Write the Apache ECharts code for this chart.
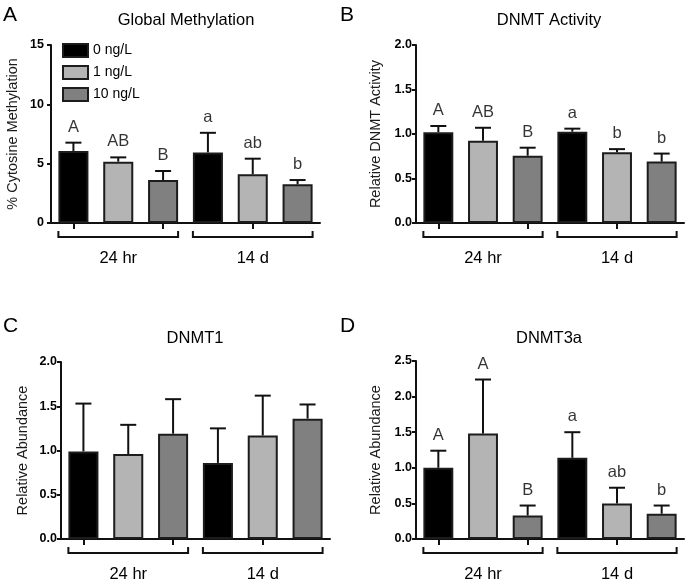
<!DOCTYPE html>
<html>
<head>
<meta charset="utf-8">
<script src="https://cdn.jsdelivr.net/npm/echarts@6/dist/echarts.min.js"></script>
<style>html,body{margin:0;padding:0;background:#fff}#c{width:685px;height:584px}</style>
</head>
<body>
<div id="c"></div>
<script>
// ---- data ----
const groups = ['24 hr', '14 d'];
const doses = ['0 ng/L', '1 ng/L', '10 ng/L'];
const categories = ['24 hr 0', '24 hr 1', '24 hr 10', '14 d 0', '14 d 1', '14 d 10'];
const doseOfBar = [0, 1, 2, 0, 1, 2];

const methMean = [6.07, 5.17, 3.62, 5.95, 4.1, 3.26];
const methTop = [6.77, 5.53, 4.38, 7.6, 5.42, 3.62];
const methLetters = ['A', 'AB', 'B', 'a', 'ab', 'b'];

const actMean = [1.02, 0.925, 0.756, 1.026, 0.794, 0.69];
const actTop = [1.09, 1.07, 0.846, 1.06, 0.83, 0.78];
const actLetters = ['A', 'AB', 'B', 'a', 'b', 'b'];

const d1Mean = [0.99, 0.96, 1.19, 0.86, 1.17, 1.36];
const d1Top = [1.53, 1.29, 1.58, 1.25, 1.62, 1.52];
const d1Letters = ['', '', '', '', '', ''];

const d3aMean = [1.0, 1.48, 0.33, 1.14, 0.5, 0.355];
const d3aTop = [1.24, 2.24, 0.47, 1.5, 0.72, 0.47];
const d3aLetters = ['A', 'A', 'B', 'a', 'ab', 'b'];

const panelTitles = ['Global Methylation', 'DNMT Activity', 'DNMT1', 'DNMT3a'];
const panelLetters = ['A', 'B', 'C', 'D'];
const yNames = ['% Cytosine Methylation', 'Relative DNMT Activity', 'Relative Abundance', 'Relative Abundance'];
const yMax = [15, 2.0, 2.0, 2.5];
const yInterval = [5, 0.5, 0.5, 0.5];

// ---- styling / layout ----
const FONT = "'Liberation Sans', Arial, Helvetica, sans-serif";
const colors = ['#000000', '#b4b4b4', '#808080'];
const INK = '#111111';
const grids = [
  {left: 51, top: 45, width: 269, height: 178},
  {left: 416, top: 45, width: 268, height: 178},
  {left: 61, top: 362, width: 269, height: 177},
  {left: 416, top: 361, width: 268, height: 178}
];
const titlePos = [[186, 20], [549, 20], [195, 338], [549, 338]];
const letterPos = [[3, 15], [340, 15], [3, 326], [340, 326]];
const nameGaps = [31, 33, 31, 33];
const labelMargins = [7, 4, 4, 4];
const means = [methMean, actMean, d1Mean, d3aMean];
const tops = [methTop, actTop, d1Top, d3aTop];
const letters = [methLetters, actLetters, d1Letters, d3aLetters];
const BAR_FRAC = 0.67;

const xAxes = [], yAxes = [], series = [], graphics = [];
for (let p = 0; p < 4; p++) {
  xAxes.push({
    type: 'category', gridIndex: p, data: categories, boundaryGap: true,
    axisLine: {show: true, lineStyle: {color: INK, width: 2}},
    axisTick: {show: true, alignWithLabel: true, length: 6, lineStyle: {color: INK, width: 2}},
    axisLabel: {show: false}, splitLine: {show: false}
  });
  const dec = yInterval[p] < 1 ? 1 : 0;
  yAxes.push({
    type: 'value', gridIndex: p, min: 0, max: yMax[p], interval: yInterval[p],
    name: yNames[p], nameLocation: 'middle', nameGap: nameGaps[p], nameRotate: 90,
    nameTextStyle: {fontSize: 14.5, color: '#1a1a1a', fontFamily: FONT},
    axisLine: {show: true, lineStyle: {color: INK, width: 2}},
    axisTick: {show: true, length: 4, lineStyle: {color: INK, width: 2}},
    axisLabel: {fontSize: 12.5, fontWeight: 'bold', color: '#000', margin: labelMargins[p], fontFamily: FONT,
      formatter: v => v.toFixed(dec)},
    splitLine: {show: false}
  });
  // bars, one series per dose, overlaid by barGap -100%
  for (let d = 0; d < 3; d++) {
    series.push({
      type: 'bar', name: doses[d], xAxisIndex: p, yAxisIndex: p,
      barGap: '-100%', barWidth: (BAR_FRAC * 100) + '%',
      itemStyle: {color: colors[d], borderColor: '#1c1c1c', borderWidth: 2},
      data: means[p].map((v, i) => doseOfBar[i] === d ? v : '-'),
      z: 2, animation: false
    });
  }
  // error bars (upper only)
  series.push({
    type: 'custom', xAxisIndex: p, yAxisIndex: p, z: 3, animation: false, clip: false,
    encode: {x: 0, y: [1, 2]},
    data: means[p].map((v, i) => [i, v, tops[p][i]]),
    renderItem: (params, api) => {
      const a = api.coord([api.value(0), api.value(1)]);
      const b = api.coord([api.value(0), api.value(2)]);
      const half = 8;
      const st = {stroke: INK, lineWidth: 2};
      return {type: 'group', children: [
        {type: 'line', shape: {x1: a[0], y1: a[1], x2: b[0], y2: b[1]}, style: st},
        {type: 'line', shape: {x1: b[0] - half, y1: b[1], x2: b[0] + half, y2: b[1]}, style: st}
      ]};
    }
  });
  // significance letters
  series.push({
    type: 'scatter', xAxisIndex: p, yAxisIndex: p, symbolSize: 0, animation: false,
    data: tops[p].map((v, i) => [i, v]),
    label: {show: true, position: 'top', distance: 7, fontSize: 16.5, color: '#000', fontFamily: FONT,
      formatter: prm => letters[p][prm.dataIndex]},
    silent: true, z: 4
  });
  // group brackets and labels
  series.push({
    type: 'custom', xAxisIndex: p, yAxisIndex: p, animation: false, clip: false, silent: true,
    encode: {x: [0, 1]},
    data: [[0, 2], [3, 5]],
    renderItem: (params, api) => {
      const a = api.coord([api.value(0), 0]);
      const b = api.coord([api.value(1), 0]);
      const hw = api.size([1, 0])[0] * BAR_FRAC / 2;
      const x0 = a[0] - hw, x1 = b[0] + hw, y0 = a[1] + 14;
      return {type: 'group', children: [
        {type: 'polyline', shape: {points: [[x0, y0 - 6], [x0, y0], [x1, y0], [x1, y0 - 6]]},
          style: {stroke: INK, lineWidth: 2, fill: null}},
        {type: 'text', x: (x0 + x1) / 2, y: a[1] + 35,
          style: {text: groups[params.dataIndex], align: 'center', verticalAlign: 'middle',
            font: '16.5px ' + FONT, fill: '#000'}}
      ]};
    }
  });
  graphics.push({type: 'text', x: titlePos[p][0], y: titlePos[p][1],
    style: {text: panelTitles[p], align: 'center', verticalAlign: 'middle', textAlign: 'center', textVerticalAlign: 'middle',
      font: '16.5px ' + FONT, fill: '#000'}});
  graphics.push({type: 'text', x: letterPos[p][0], y: letterPos[p][1],
    style: {text: panelLetters[p], align: 'left', verticalAlign: 'middle', textAlign: 'left', textVerticalAlign: 'middle',
      font: '21px ' + FONT, fill: '#000'}});
}

const chart = echarts.init(document.getElementById('c'), null, {renderer: 'canvas'});
chart.setOption({
  backgroundColor: '#ffffff',
  animation: false,
  textStyle: {fontFamily: FONT},
  grid: grids,
  xAxis: xAxes,
  yAxis: yAxes,
  legend: {
    data: doses, orient: 'vertical', left: 62, top: 43, icon: 'rect',
    itemWidth: 25, itemHeight: 13, itemGap: 7, padding: 0,
    textStyle: {fontSize: 14, color: '#000', fontFamily: FONT}
  },
  series: series,
  graphic: graphics
});
</script>
</body>
</html>
